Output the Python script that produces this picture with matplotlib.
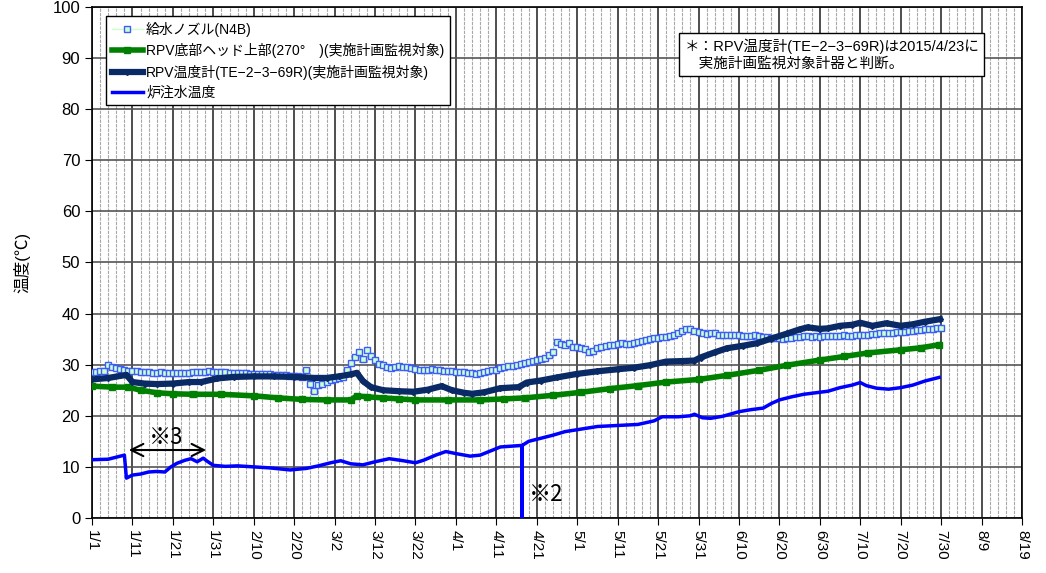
import numpy as np
import matplotlib.pyplot as plt
from matplotlib.ticker import MultipleLocator

plt.rcParams['font.family'] = ['Liberation Sans', 'Noto Sans CJK JP']

# days counted from 1/1 (2015)
tick_labels = ['1/1', '1/11', '1/21', '1/31', '2/10', '2/20', '3/2', '3/12', '3/22',
               '4/1', '4/11', '4/21', '5/1', '5/11', '5/21', '5/31', '6/10', '6/20',
               '6/30', '7/10', '7/20', '7/30', '8/9', '8/19']

# 給水ノズル(N4B) - daily, 1/1 .. 7/30
nozzle_days = np.arange(0, 211)
nozzle_temp = [28.6, 28.5, 28.7, 28.8, 29.9, 29.6, 29.3, 29.1, 29.0, 28.8,
               28.7, 28.7, 28.6, 28.5, 28.5, 28.4, 28.4, 28.5, 28.4, 28.3,
               28.3, 28.4, 28.3, 28.4, 28.4, 28.5, 28.5, 28.6, 28.6, 28.7,
               28.6, 28.6, 28.5, 28.5, 28.4, 28.4, 28.3, 28.4, 28.3, 28.2,
               28.2, 28.2, 28.2, 28.1, 28.1, 28.0, 28.0, 27.9, 27.9, 27.8,
               27.8, 27.7, 27.6, 29.0, 26.2, 24.8, 26.0, 26.3, 26.6, 27.0,
               27.2, 27.4, 27.6, 29.0, 30.3, 31.5, 32.5, 31.2, 32.8, 31.6,
               31.0, 30.2, 30.0, 29.6, 29.4, 29.5, 29.7, 29.6, 29.5, 29.3,
               29.2, 29.0, 29.0, 28.9, 29.1, 29.0, 28.9, 28.8, 28.8, 28.7,
               28.6, 28.5, 28.5, 28.4, 28.3, 28.2, 28.3, 28.5, 28.7, 28.9,
               29.0, 29.3, 29.5, 29.7, 29.8, 30.0, 30.2, 30.4, 30.6, 30.8,
               31.0, 31.2, 31.4, 31.8, 32.5, 34.5, 34.0, 33.8, 34.2, 33.5,
               33.5, 33.2, 33.0, 32.4, 32.6, 33.2, 33.4, 33.6, 33.8, 33.9,
               34.1, 34.3, 34.0, 34.1, 34.3, 34.5, 34.7, 34.9, 35.0, 35.2,
               35.2, 35.4, 35.5, 35.7, 35.8, 36.2, 36.6, 37.0, 36.9, 36.5,
               36.3, 36.1, 36.0, 36.1, 36.2, 35.9, 35.9, 35.8, 35.8, 35.9,
               35.8, 35.7, 35.6, 35.7, 35.8, 35.6, 35.5, 35.4, 35.3, 35.2,
               35.2, 35.1, 35.2, 35.3, 35.4, 35.5, 35.6, 35.6, 35.5, 35.6,
               35.5, 35.6, 35.6, 35.7, 35.7, 35.7, 35.8, 35.7, 35.7, 35.8,
               35.8, 35.9, 35.9, 36.0, 36.0, 36.1, 36.1, 36.2, 36.2, 36.3,
               36.4, 36.4, 36.5, 36.6, 36.7, 36.8, 36.9, 37.0, 37.0, 37.1,
               37.2]

# RPV底部ヘッド上部(270°)
bottom_days = [0, 5, 9, 12, 16, 20, 25, 32, 40, 46, 52, 58, 64, 65.5, 68, 72, 76, 80, 88,
               96, 102, 107, 114, 121, 128, 135, 142, 150, 157, 165, 172, 180, 186, 192,
               200, 205, 209.5]
bottom_temp = [25.8, 25.6, 25.6, 25.0, 24.5, 24.3, 24.2, 24.2, 23.9, 23.5, 23.2, 23.1,
               23.1, 23.9, 23.7, 23.5, 23.3, 23.1, 23.1, 23.1, 23.3, 23.5, 24.0, 24.6,
               25.3, 25.9, 26.6, 27.1, 27.9, 28.9, 29.9, 30.9, 31.6, 32.3, 32.9, 33.3, 33.9]

# RPV温度計(TE-2-3-69R)
rpv_days = [0, 4, 8.5, 10, 13, 16, 20, 24, 27, 31, 35, 40, 45, 50, 55, 58, 61, 64, 65.5,
            67, 69, 72, 76, 79.5, 83, 86.5, 89, 92, 94, 97, 101, 105.5, 107.5, 111, 115,
            120, 125, 130, 134, 138, 142, 146, 149, 150.5, 154, 157, 161, 164.5, 168,
            172, 175, 177, 180, 182, 185, 188, 190, 193, 196.5, 200, 203, 206, 209.7]
rpv_temp = [27.1, 27.4, 28.0, 26.6, 26.3, 26.2, 26.3, 26.6, 26.6, 27.3, 27.6, 27.7, 27.7,
            27.6, 27.4, 27.4, 27.7, 28.1, 28.4, 26.8, 25.6, 25.0, 24.8, 24.7, 25.1, 25.8,
            25.0, 24.5, 24.3, 24.6, 25.4, 25.6, 26.5, 26.9, 27.5, 28.2, 28.7, 29.1, 29.4,
            29.9, 30.6, 30.7, 30.8, 31.4, 32.4, 33.2, 33.7, 34.2, 35.1, 36.1, 36.9, 37.3,
            37.0, 37.1, 37.6, 37.8, 38.2, 37.6, 38.1, 37.6, 37.9, 38.4, 38.9]

# 炉注水温度
water_days = [0, 4, 6, 8, 8.5, 10, 12, 14, 16, 18, 19.5, 21, 23, 24.5, 26, 27.5, 28.5, 30,
              33, 36, 40, 44, 49, 53, 56, 59, 61.5, 64, 67, 70, 73.5, 77, 80, 82, 85, 87.5,
              90, 93.5, 96, 98.5, 101, 106.4, 106.4, 106.4, 108, 111, 114, 117, 121, 125,
              130, 135, 139, 141, 145, 148, 149, 151, 153, 156, 160, 163, 166, 168, 170,
              173, 176, 179, 182, 185, 188, 190, 191.5, 194, 197, 200, 203, 206, 209.5]
water_temp = [11.4, 11.5, 11.9, 12.3, 7.8, 8.4, 8.6, 9.0, 9.1, 9.0, 10.0, 10.7, 11.3, 11.6,
              11.0, 11.7, 11.1, 10.3, 10.1, 10.2, 10.0, 9.8, 9.4, 9.7, 10.2, 10.8, 11.2,
              10.6, 10.4, 11.0, 11.6, 11.2, 10.8, 11.3, 12.3, 13.0, 12.6, 12.1, 12.3, 13.1,
              13.9, 14.2, 0.0, 14.2, 15.0, 15.6, 16.2, 16.9, 17.4, 17.9, 18.1, 18.3, 19.0,
              19.8, 19.8, 20.0, 20.3, 19.6, 19.5, 19.9, 20.8, 21.2, 21.5, 22.4, 23.1, 23.7,
              24.2, 24.5, 24.8, 25.5, 26.0, 26.5, 25.9, 25.4, 25.2, 25.5, 26.0, 26.8, 27.5]

fig = plt.figure(figsize=(10.46, 5.73), dpi=100)
ax = fig.add_axes([0.088, 0.096, 0.889, 0.892])

ax.plot(nozzle_days, nozzle_temp, color='#ccffcc', lw=1, marker='s', ms=5,
        mfc='#ccffcc', mec='#3d5cff', mew=1, label='給水ノズル(N4B)', zorder=3)
ax.plot(bottom_days, bottom_temp, color='#008000', lw=4, marker='s', ms=4,
        label='RPV底部ヘッド上部(270°\u3000)(実施計画監視対象)', zorder=4)
ax.plot(rpv_days, rpv_temp, color='#0a2a66', lw=4.5, marker='D', ms=3,
        label='RPV温度計(TE−2−3−69R)(実施計画監視対象)', zorder=5)
ax.plot(water_days, water_temp, color='#0000ff', lw=2.5, label='炉注水温度', zorder=6)

ax.set_xlim(0, 230)
ax.set_ylim(0, 100)
ax.set_xticks(np.arange(0, 231, 10))
ax.set_xticklabels(tick_labels, rotation=-90, fontsize=11)
ax.xaxis.set_minor_locator(MultipleLocator(2))
ax.yaxis.set_major_locator(MultipleLocator(10))
ax.tick_params(axis='y', labelsize=12, direction='out', length=5)
ax.tick_params(axis='x', direction='out', length=5, pad=4)
ax.tick_params(axis='x', which='minor', length=0)
ax.grid(which='major', axis='x', color='#303030', lw=1.2, ls='-')
ax.grid(which='major', axis='y', color='#555555', lw=1.2, ls='-')
ax.grid(which='minor', axis='x', color='#a8a8a8', lw=0.8, ls=(0, (3, 1)))
ax.set_axisbelow(True)
for s in ax.spines.values():
    s.set_color('black')
    s.set_linewidth(1.2)

ax.set_ylabel('温度(℃)', fontsize=12, labelpad=16)

leg = ax.legend(loc='upper left', bbox_to_anchor=(0.008, 0.995), fontsize=10,
                frameon=True, fancybox=False, edgecolor='black', framealpha=1,
                handlelength=2.2, labelspacing=0.45, borderpad=0.4, handletextpad=0.25)
leg.get_frame().set_linewidth(1)

ax.text(0.637, 0.938, '＊：RPV温度計(TE−2−3−69R)は2015/4/23に\n\u3000実施計画監視対象計器と判断。',
        transform=ax.transAxes, fontsize=10.5, va='top', ha='left', linespacing=1.3,
        bbox=dict(boxstyle='square,pad=0.35', fc='white', ec='black', lw=1), zorder=10)

ax.annotate('', xy=(8.4, 13.3), xytext=(28.9, 13.3),
            arrowprops=dict(arrowstyle='<->', lw=1.5, color='black', mutation_scale=22),
            zorder=8)
ax.text(18.3, 15.8, '※3', fontsize=16, ha='center', va='center',
        family=['Noto Sans CJK JP'], zorder=8)
ax.text(108.0, 4.5, '※2', fontsize=16, ha='left', va='center',
        family=['Noto Sans CJK JP'], zorder=8)

fig.savefig('out.png', dpi=100)
